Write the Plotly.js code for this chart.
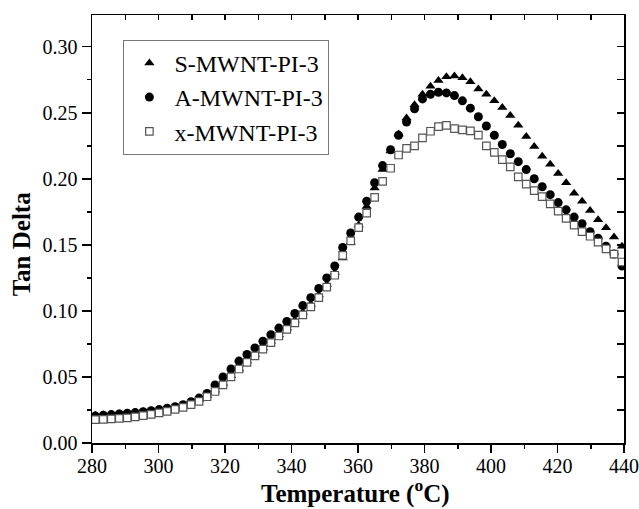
<!DOCTYPE html>
<html>
<head>
<meta charset="utf-8">
<script src="https://cdn.plot.ly/plotly-3.0.1.min.js"></script>
<style>html,body{margin:0;padding:0;background:#fff;}#chart{width:639px;height:509px;}</style>
</head>
<body>
<div id="chart"></div>
<script>
// Temperature (°C)
var temperature = [281.0, 283.4, 285.8, 288.2, 290.6, 293.0, 295.4, 297.8, 300.2, 302.6,
  305.0, 307.4, 309.8, 312.2, 314.6, 317.0, 319.4, 321.8, 324.2, 326.6,
  329.0, 331.4, 333.8, 336.2, 338.6, 341.0, 343.4, 345.8, 348.2, 350.6,
  353.0, 355.4, 357.8, 360.2, 362.6, 365.0, 367.4, 369.8, 372.2, 374.6,
  377.0, 379.4, 381.8, 384.2, 386.6, 389.0, 391.4, 393.8, 396.2, 398.6,
  401.0, 403.4, 405.8, 408.2, 410.6, 413.0, 415.4, 417.8, 420.2, 422.6,
  425.0, 427.4, 429.8, 432.2, 434.6, 437.0, 439.4];

var sMWNT = [0.0210, 0.0213, 0.0217, 0.0221, 0.0226, 0.0231, 0.0237, 0.0244, 0.0252, 0.0261,
  0.0272, 0.0286, 0.0305, 0.0330, 0.0360, 0.0400, 0.0450, 0.0510, 0.0560, 0.0620,
  0.0670, 0.0720, 0.0770, 0.0820, 0.0870, 0.0930, 0.0990, 0.1050, 0.1120, 0.1200,
  0.1290, 0.1400, 0.1520, 0.1650, 0.1790, 0.1930, 0.2070, 0.2210, 0.2340, 0.2460,
  0.2560, 0.2640, 0.2700, 0.2745, 0.2772, 0.2778, 0.2765, 0.2735, 0.2680, 0.2640,
  0.2590, 0.2540, 0.2480, 0.2405, 0.2320, 0.2245, 0.2170, 0.2110, 0.2040, 0.1970,
  0.1890, 0.1830, 0.1760, 0.1690, 0.1630, 0.1560, 0.1490];

var aMWNT = [0.0205, 0.0210, 0.0215, 0.0220, 0.0225, 0.0230, 0.0237, 0.0245, 0.0253, 0.0263,
  0.0275, 0.0290, 0.0312, 0.0340, 0.0375, 0.0440, 0.0500, 0.0560, 0.0620, 0.0670,
  0.0720, 0.0770, 0.0820, 0.0870, 0.0920, 0.0980, 0.1040, 0.1100, 0.1170, 0.1250,
  0.1340, 0.1480, 0.1590, 0.1710, 0.1830, 0.1970, 0.2100, 0.2220, 0.2330, 0.2430,
  0.2530, 0.2605, 0.2640, 0.2655, 0.2650, 0.2630, 0.2590, 0.2535, 0.2470, 0.2400,
  0.2330, 0.2260, 0.2190, 0.2130, 0.2070, 0.2000, 0.1940, 0.1880, 0.1820, 0.1765,
  0.1710, 0.1660, 0.1600, 0.1550, 0.1490, 0.1430, 0.1340];

var xMWNT = [0.0177, 0.0179, 0.0182, 0.0186, 0.0190, 0.0198, 0.0207, 0.0217, 0.0228, 0.0240,
  0.0255, 0.0270, 0.0290, 0.0315, 0.0350, 0.0390, 0.0440, 0.0500, 0.0560, 0.0610,
  0.0660, 0.0710, 0.0760, 0.0810, 0.0860, 0.0910, 0.0970, 0.1030, 0.1100, 0.1180,
  0.1270, 0.1420, 0.1530, 0.1630, 0.1740, 0.1860, 0.1980, 0.2080, 0.2180, 0.2230,
  0.2250, 0.2310, 0.2360, 0.2395, 0.2405, 0.2380, 0.2370, 0.2363, 0.2330, 0.2250,
  0.2200, 0.2145, 0.2090, 0.2015, 0.1960, 0.1910, 0.1865, 0.1810, 0.1755, 0.1700,
  0.1650, 0.1600, 0.1565, 0.1520, 0.1470, 0.1430, 0.1370];

var seriesNames = ['S-MWNT-PI-3', 'A-MWNT-PI-3', 'x-MWNT-PI-3'];
var yTitle = 'Tan Delta';
var xTitle = 'Temperature (<sup>o</sup>C)';
var emptyVals = [];

var serif = 'Liberation Serif';

var traces = [
  {x: temperature, y: sMWNT, name: seriesNames[0], type: 'scatter', mode: 'markers',
   marker: {symbol: 'triangle-up', size: 9, color: '#000'}},
  {x: temperature, y: aMWNT, name: seriesNames[1], type: 'scatter', mode: 'markers',
   marker: {symbol: 'circle', size: 9, color: '#000'}},
  {x: temperature, y: xMWNT, name: seriesNames[2], type: 'scatter', mode: 'markers',
   marker: {symbol: 'square', size: 7.5, color: '#fff', line: {color: '#555', width: 1.2}}},
  {x: emptyVals, y: emptyVals, xaxis: 'x2', yaxis: 'y2', type: 'scatter', mode: 'markers',
   showlegend: false, hoverinfo: 'skip'}
];

var layout = {
  width: 639, height: 509,
  margin: {l: 92, r: 15, t: 15, b: 66},
  paper_bgcolor: '#fff', plot_bgcolor: '#fff',
  showlegend: true,
  legend: {x: 0.059, y: 0.942, xanchor: 'left', yanchor: 'top', itemwidth: 40,
    bordercolor: '#777', borderwidth: 1, bgcolor: '#fff',
    font: {family: serif, size: 24, color: '#000'}, traceorder: 'normal'},
  annotations: [
    {text: '<b>' + yTitle + '</b>', xref: 'paper', yref: 'paper', x: -0.131, y: 0.465,
     xanchor: 'center', yanchor: 'middle', textangle: -90, showarrow: false,
     font: {family: serif, size: 25, color: '#000'}},
    {text: '<b>' + xTitle + '</b>', xref: 'paper', yref: 'paper', x: 0.496, y: -0.156,
     xanchor: 'center', yanchor: 'bottom', showarrow: false,
     font: {family: serif, size: 25, color: '#000'}}
  ],
  xaxis: {range: [280, 440], showline: true, linecolor: '#000', linewidth: 1.5,
    ticks: 'outside', ticklen: 8, tickwidth: 1.5, tickcolor: '#000', tick0: 280, dtick: 20,
    minor: {ticks: 'outside', ticklen: 4, tickwidth: 1.5, tickcolor: '#000', dtick: 10},
    showgrid: false, zeroline: false, ticklabelstandoff: -4,
    tickfont: {family: serif, size: 20, color: '#000'}},
  yaxis: {range: [0, 0.324], showline: true, linecolor: '#000', linewidth: 1.5,
    ticks: 'outside', ticklen: 9, tickwidth: 1.5, tickcolor: '#000', tick0: 0, dtick: 0.05,
    tickformat: '.2f',
    minor: {ticks: 'outside', ticklen: 4, tickwidth: 1.5, tickcolor: '#000', dtick: 0.025},
    showgrid: false, zeroline: false,
    tickfont: {family: serif, size: 20, color: '#000'}},
  xaxis2: {overlaying: 'x', side: 'top', anchor: 'y', range: [280, 440], showline: true,
    linecolor: '#000', linewidth: 1.5, ticks: 'inside', ticklen: 5, tickwidth: 1.5,
    tickcolor: '#000', tick0: 280, dtick: 10, showticklabels: false, showgrid: false, zeroline: false},
  yaxis2: {overlaying: 'y', side: 'right', anchor: 'x', range: [0, 0.324], showline: true,
    linecolor: '#000', linewidth: 1.5, ticks: 'inside', ticklen: 7, tickwidth: 1.5,
    tickcolor: '#000', tick0: 0, dtick: 0.025, showticklabels: false, showgrid: false, zeroline: false}
};

Plotly.newPlot('chart', traces, layout, {displayModeBar: false, staticPlot: true});
</script>
</body>
</html>
